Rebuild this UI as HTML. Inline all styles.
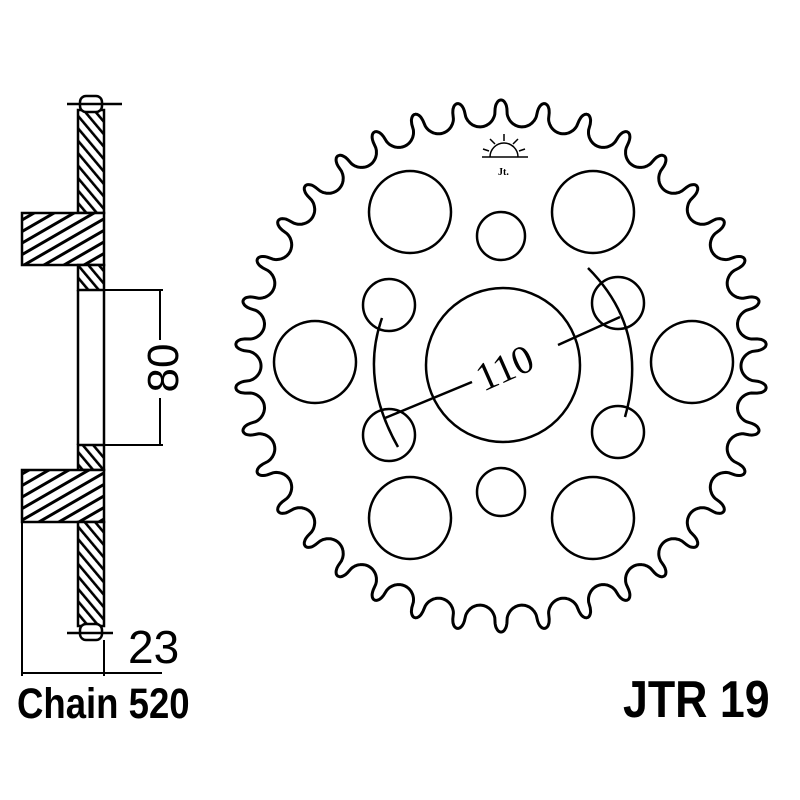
<!DOCTYPE html>
<html><head><meta charset="utf-8"><style>
html,body{margin:0;padding:0;background:#fff;width:800px;height:800px;overflow:hidden}
svg{display:block}
</style></head><body>
<svg id="s" width="800" height="800" viewBox="0 0 800 800" xmlns="http://www.w3.org/2000/svg">
<defs>
<pattern id="h" patternUnits="userSpaceOnUse" width="8" height="8" patternTransform="rotate(-40)">
<rect width="8" height="8" fill="#fff"/><rect x="0" y="0" width="2.6" height="8" fill="#000"/>
</pattern>
<pattern id="h2" patternUnits="userSpaceOnUse" width="10" height="10" patternTransform="rotate(60)">
<rect width="10" height="10" fill="#fff"/><rect x="0" y="0" width="3" height="10" fill="#000"/>
</pattern>
</defs>
<g fill="none" stroke="#000" stroke-width="2.5">
<rect x="78" y="110" width="26" height="103" fill="url(#h)"/>
<rect x="22" y="213" width="82" height="52" fill="url(#h2)"/>
<rect x="78" y="265" width="26" height="25" fill="url(#h)"/>
<line x1="78" y1="290" x2="78" y2="445"/><line x1="104" y1="290" x2="104" y2="445"/>
<rect x="78" y="445" width="26" height="25" fill="url(#h)"/>
<rect x="22" y="470" width="82" height="52" fill="url(#h2)"/>
<rect x="78" y="522" width="26" height="104" fill="url(#h)"/>
<rect x="80" y="96" width="22" height="16" rx="6" fill="#fff"/>
<rect x="80" y="624" width="22" height="16" rx="6" fill="#fff"/>
<line x1="67" y1="104" x2="122" y2="104"/>
<line x1="67" y1="633" x2="113" y2="633"/>
<line x1="104" y1="290" x2="163" y2="290" stroke-width="2"/>
<line x1="104" y1="445" x2="163" y2="445" stroke-width="2"/>
<line x1="160" y1="290" x2="160" y2="340" stroke-width="2"/>
<line x1="160" y1="398" x2="160" y2="445" stroke-width="2"/>
<line x1="22" y1="522" x2="22" y2="676" stroke-width="2"/>
<line x1="104" y1="640" x2="104" y2="676" stroke-width="2"/>
<line x1="22" y1="673" x2="162" y2="673" stroke-width="2"/>
<path id="teeth" stroke-width="3"/>
<circle cx="503" cy="365" r="77"/>
<circle cx="410" cy="212" r="41"/><circle cx="593" cy="212" r="41"/>
<circle cx="315" cy="362" r="41"/><circle cx="692" cy="362" r="41"/>
<circle cx="410" cy="518" r="41"/><circle cx="593" cy="518" r="41"/>
<circle cx="501" cy="236" r="24"/><circle cx="501" cy="492" r="24"/>
<circle cx="389" cy="305" r="26"/><circle cx="618" cy="303" r="26"/>
<circle cx="389" cy="435" r="26"/><circle cx="618" cy="432" r="26"/>
<path d="M382 318 Q360 380 398 447" stroke-width="2.5"/>
<path d="M588 268 Q650 330 625 417" stroke-width="2.5"/>
<line x1="385" y1="418" x2="472" y2="382" stroke-width="2.5"/>
<line x1="558" y1="345" x2="620" y2="317" stroke-width="2.5"/>
<g stroke-width="1.5">
<line x1="482" y1="157" x2="528" y2="157"/>
<path d="M490 157 A14 14 0 0 1 518 157"/>
<line x1="504" y1="141" x2="504" y2="134"/>
<line x1="495" y1="144" x2="490" y2="139"/>
<line x1="513" y1="144" x2="518" y2="139"/>
<line x1="489" y1="151" x2="483" y2="149"/>
<line x1="519" y1="151" x2="525" y2="149"/>
</g>
</g>
<text x="498" y="175" font-family="Liberation Serif,serif" font-size="10" font-weight="bold">Jt.</text>
<text transform="translate(510,380) rotate(-24)" text-anchor="middle" font-family="Liberation Serif,serif" font-size="40">110</text>
<text transform="translate(178,368) rotate(-90)" text-anchor="middle" font-family="Liberation Sans,sans-serif" font-size="44">80</text>
<text x="128" y="663" font-family="Liberation Sans,sans-serif" font-size="46">23</text>
<text transform="translate(17,718) scale(0.85,1)" font-family="Liberation Sans,sans-serif" font-weight="bold" font-size="43">Chain 520</text>
<text transform="translate(623,717) scale(0.86,1)" font-family="Liberation Sans,sans-serif" font-weight="bold" font-size="52">JTR 19</text>
</svg>
<script>
(function(){
var cx=501,cy=366,N=38,Rt=266,Rv=240,rr=15;
var Rm=(Rt+Rv)/2, pitch=2*Math.PI*Rm/N, half=pitch/2;
var pts=[];var M=N*80;
for(var i=0;i<=M;i++){
 var th=i/M*2*Math.PI;
 var s=((th/(2*Math.PI))*N%1)*pitch; if(s>half)s=s-pitch;
 var a=Math.abs(s), r;
 var dv=half-a;
 if(dv<rr){ r=Rv+rr-Math.sqrt(Math.max(0,rr*rr-dv*dv)); }
 else { var t=a/(half-rr); r=Rv+rr+(Rt-Rv-rr)*Math.sqrt(Math.max(0,1-t*t)); }
 var x=cx+r*Math.sin(th), y=cy-r*Math.cos(th);
 pts.push((i?'L':'M')+x.toFixed(1)+' '+y.toFixed(1));
}
document.getElementById('teeth').setAttribute('d',pts.join('')+'Z');
})();
</script>
</body></html>
